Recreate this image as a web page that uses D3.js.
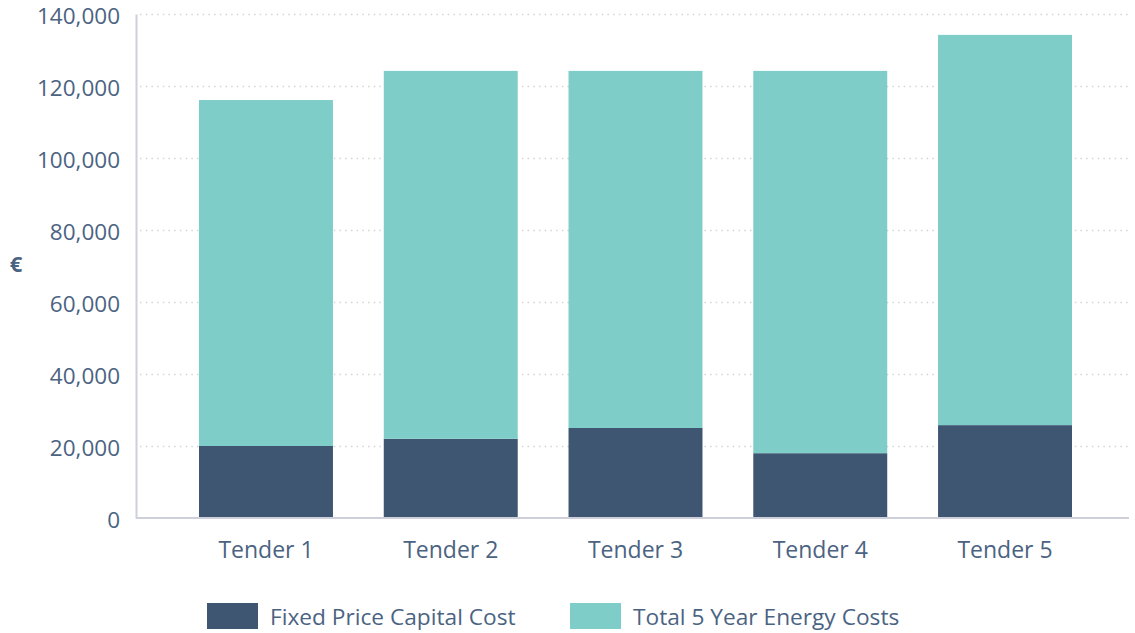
<!DOCTYPE html>
<html>
<head>
<meta charset="utf-8">
<script src="https://cdn.jsdelivr.net/npm/d3@7"></script>
<style>
  body { margin: 0; background: #fff; }
  text { font-family: "Open Sans", sans-serif; fill: #4b6382; }
</style>
</head>
<body>
<div id="myChart"></div>
<script>
// data
let tenders = ["Tender 1", "Tender 2", "Tender 3", "Tender 4", "Tender 5"];
let capitalCost = [20000, 22000, 25000, 18000, 25800];
let energyCosts = [96100, 102200, 99200, 106200, 108400];
let seriesNames = ["Fixed Price Capital Cost", "Total 5 Year Energy Costs"];
let seriesColors = ["#3e5672", "#7ecdc8"];
let yTicks = [0, 20000, 40000, 60000, 80000, 100000, 120000, 140000];

var width = 1135, height = 633;
var margin = { top: 14, right: 6, bottom: 115, left: 136 };

var svg = d3.select("#myChart")
  .append("svg")
  .attr("width", width)
  .attr("height", height);

// stack the two series
let rows = tenders.map((t, i) => ({ tender: t, capital: capitalCost[i], energy: energyCosts[i] }));
let stacked = d3.stack().keys(["capital", "energy"])(rows);

var x = d3.scaleBand()
  .domain(tenders)
  .range([margin.left, width])
  .paddingInner(0.275)
  .paddingOuter(0.341);

var y = d3.scaleLinear()
  .domain([0, 140000])
  .range([height - margin.bottom, margin.top]);

// dotted grid lines
svg.append("g")
  .selectAll("line")
  .data(yTicks.filter(d => d > 0))
  .enter()
  .append("line")
  .attr("x1", margin.left + 4)
  .attr("x2", width - margin.right)
  .attr("y1", d => y(d) + 0.5)
  .attr("y2", d => y(d) + 0.5)
  .attr("stroke", "#d4d4d8")
  .attr("stroke-width", 1.5)
  .attr("stroke-dasharray", "1.5,4.2");

// bars
svg.append("g")
  .selectAll("g")
  .data(stacked)
  .enter()
  .append("g")
  .attr("fill", (d, i) => seriesColors[i])
  .selectAll("rect")
  .data(d => d)
  .enter()
  .append("rect")
  .attr("x", d => x(d.data.tender))
  .attr("y", d => y(d[1]))
  .attr("width", x.bandwidth())
  .attr("height", d => y(d[0]) - y(d[1]));

// y axis
var yAxis = svg.append("g")
  .attr("transform", "translate(" + margin.left + ",0)")
  .call(d3.axisLeft(y).tickValues(yTicks).tickFormat(d3.format(",")).tickSize(0).tickPadding(16));
yAxis.select(".domain").attr("stroke", "#cdd0da").attr("stroke-width", 2);
yAxis.selectAll("text")
  .attr("font-size", 22.5)
  .attr("dy", "0.4em")
  .attr("fill", "#4b6382")
  .style("font-family", "'Open Sans', sans-serif");

// x axis
var xAxis = svg.append("g")
  .attr("transform", "translate(0," + (height - margin.bottom) + ")")
  .call(d3.axisBottom(x).tickSize(0).tickPadding(24));
xAxis.select(".domain").attr("stroke", "#cdd0da").attr("stroke-width", 2).attr("d", "M" + margin.left + ",0H" + (width - margin.right));
xAxis.selectAll("text").attr("font-size", 23).attr("fill", "#4b6382").style("font-family", "'Open Sans', sans-serif");

// axis title
svg.append("text")
  .attr("x", 16)
  .attr("y", 266)
  .attr("text-anchor", "middle")
  .attr("dominant-baseline", "middle")
  .attr("font-size", 22)
  .attr("font-weight", "bold")
  .text("€");

// legend
var legendX = [207, 570];
var legend = svg.append("g")
  .selectAll("g")
  .data(seriesNames)
  .enter()
  .append("g")
  .attr("transform", (d, i) => "translate(" + legendX[i] + ",603)");
legend.append("rect")
  .attr("width", 51)
  .attr("height", 26)
  .attr("fill", (d, i) => seriesColors[i]);
legend.append("text")
  .attr("x", 63)
  .attr("y", 16)
  .attr("dominant-baseline", "middle")
  .attr("font-size", 22.7)
  .text(d => d);
</script>
</body>
</html>
